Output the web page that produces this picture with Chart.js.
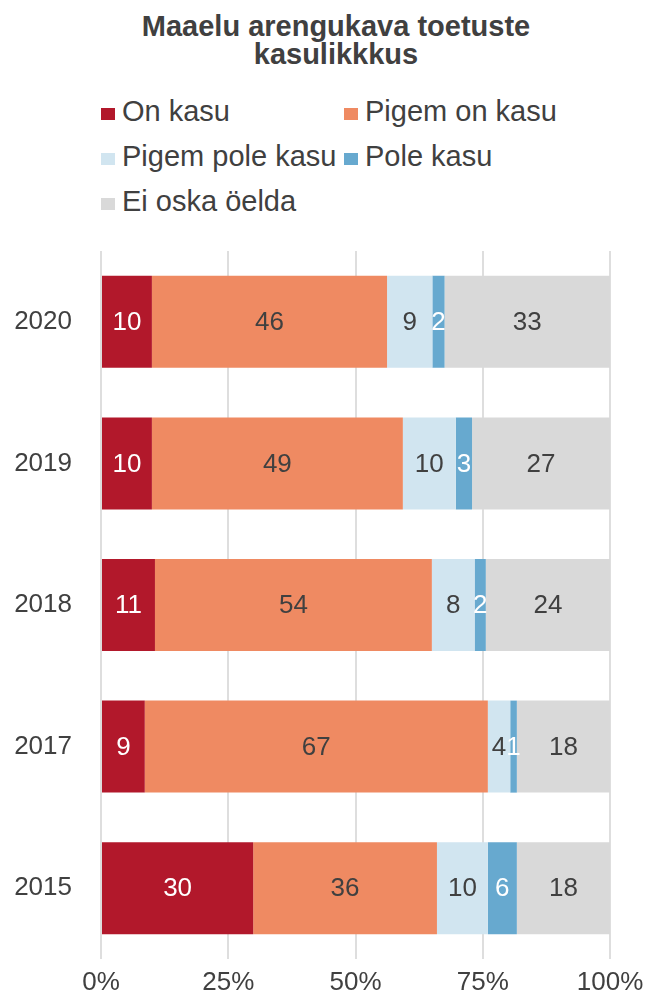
<!DOCTYPE html>
<html lang="et">
<head>
  <meta charset="UTF-8" />
  <title>Maaelu arengukava toetuste kasulikkkus</title>
  <script src="https://cdn.jsdelivr.net/npm/chart.js"></script>
  <style>
    body {
      margin: 0;
      background: #fff;
      font-family: 'Liberation Sans', Arial, sans-serif;
      color: #404040;
    }

    .wrap {
      position: relative;
      width: 648px;
      height: 996px;
      overflow: hidden;
    }

    .title {
      position: absolute;
      top: 12px;
      left: 0;
      width: 672px;
      text-align: center;
      font-weight: bold;
      font-size: 29px;
      line-height: 28px;
    }

    .legend-item {
      position: absolute;
      font-size: 29px;
      line-height: 32px;
      white-space: nowrap;
    }

    .legend-item span.box {
      position: absolute;
      width: 14px;
      height: 12px;
      left: -21px;
      top: 13px;
    }

    #chartBox {
      position: absolute;
      left: 0;
      top: 0;
      width: 648px;
      height: 996px;
    }
  </style>
</head>

<body>
  <div class="wrap">
    <div class="title">Maaelu arengukava toetuste<br>kasulikkkus</div>
    <div id="legend"></div>
    <div id="chartBox"><canvas id="kasuChart"></canvas></div>
  </div>

  <script>
    // values in % (labels show rounded numbers)
    const years = ['2020', '2019', '2018', '2017', '2015'];
    const onKasu = [10.0, 10.0, 10.6, 8.6, 29.9];
    const pigemOnKasu = [46.2, 49.3, 54.4, 67.4, 36.1];
    const pigemPoleKasu = [8.9, 10.4, 8.4, 4.4, 10.0];
    const poleKasu = [2.4, 3.2, 2.2, 1.3, 5.7];
    const eiOskaOelda = [32.5, 27.1, 24.4, 18.3, 18.3];
    const xTicks = [0, 25, 50, 75, 100];

    const seriesNames = ['On kasu', 'Pigem on kasu', 'Pigem pole kasu', 'Pole kasu', 'Ei oska öelda'];
    const seriesColors = ['#B2182B', '#EF8A62', '#D1E5F0', '#67A9CF', '#D9D9D9'];
    const labelColors = ['#ffffff', '#404040', '#404040', '#ffffff', '#404040'];
    const seriesData = [onKasu, pigemOnKasu, pigemPoleKasu, poleKasu, eiOskaOelda];

    // legend: two columns, three rows
    const legendPos = [[122, 95], [365, 95], [122, 140], [365, 140], [122, 185]];
    const legendEl = document.getElementById('legend');
    seriesNames.forEach((name, i) => {
      const item = document.createElement('div');
      item.className = 'legend-item';
      item.style.left = legendPos[i][0] + 'px';
      item.style.top = legendPos[i][1] + 'px';
      item.innerHTML = '<span class="box" style="background:' + seriesColors[i] + '"></span>' + name;
      legendEl.appendChild(item);
    });

    const barLabels = {
      id: 'barLabels',
      afterDatasetsDraw(chart) {
        const ctx = chart.ctx;
        ctx.save();
        ctx.font = '26px "Liberation Sans", Arial, sans-serif';
        ctx.textAlign = 'center';
        ctx.textBaseline = 'middle';
        chart.data.datasets.forEach((ds, i) => {
          const meta = chart.getDatasetMeta(i);
          meta.data.forEach((bar, j) => {
            const p = bar.getProps(['x', 'y', 'base'], true);
            ctx.fillStyle = labelColors[i];
            ctx.fillText(Math.round(ds.data[j]), (p.x + p.base) / 2, p.y + 1);
          });
        });
        ctx.restore();
      }
    };

    function noPad(scale) {
      scale.paddingLeft = 0;
      scale.paddingRight = 0;
      scale.paddingTop = 0;
      scale.paddingBottom = 0;
    }

    const ctx = document.getElementById('kasuChart').getContext('2d');
    new Chart(ctx, {
      type: 'bar',
      data: {
        labels: years,
        datasets: seriesNames.map((name, i) => ({
          label: name,
          data: seriesData[i],
          backgroundColor: seriesColors[i],
          borderWidth: 0,
          barPercentage: 0.65,
          categoryPercentage: 1
        }))
      },
      options: {
        indexAxis: 'y',
        responsive: true,
        maintainAspectRatio: false,
        animation: false,
        layout: { padding: { top: 251, right: 38, left: 0, bottom: 0 } },
        plugins: {
          legend: { display: false },
          title: { display: false },
          tooltip: { enabled: false }
        },
        scales: {
          x: {
            stacked: true,
            min: 0,
            max: 100,
            afterBuildTicks: (scale) => { scale.ticks = xTicks.map(v => ({ value: v })); },
            afterFit: (scale) => { scale.height = 37; noPad(scale); },
            grid: { color: '#DEDEDE', lineWidth: 2, drawTicks: false },
            border: { display: false },
            ticks: {
              padding: 8,
              color: '#404040',
              font: { family: '"Liberation Sans", Arial, sans-serif', size: 26 },
              callback: (v) => v + '%'
            }
          },
          y: {
            stacked: true,
            afterFit: (scale) => { scale.width = 101; noPad(scale); },
            grid: { display: false, drawTicks: false },
            border: { display: false },
            ticks: {
              padding: 29,
              color: '#404040',
              font: { family: '"Liberation Sans", Arial, sans-serif', size: 26 }
            }
          }
        }
      },
      plugins: [barLabels]
    });
  </script>
</body>
</html>
